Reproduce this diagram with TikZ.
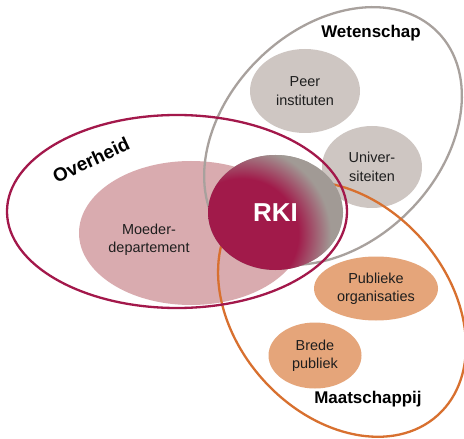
\documentclass[tikz,border=0pt]{standalone}
\usepackage{fontspec}
\setmainfont{Liberation Sans}
\usetikzlibrary{shapes.geometric,calc}
\definecolor{rkired}{RGB}{161,26,74}
\definecolor{rkigray}{RGB}{161,154,149}
\definecolor{crimsonc}{RGB}{163,24,75}
\definecolor{pinkfill}{RGB}{217,171,175}
\definecolor{grayfill}{RGB}{206,198,194}
\definecolor{graylinec}{RGB}{168,161,157}
\definecolor{orangelinec}{RGB}{216,112,47}
\definecolor{orangefill}{RGB}{229,165,122}
\definecolor{txt}{RGB}{30,30,30}
\pgfdeclareradialshading{rkishade}{\pgfpointorigin}{color(0bp)=(rkired); color(14bp)=(rkired); color(22bp)=(rkigray); color(50bp)=(rkigray)}
\begin{document}
\begin{tikzpicture}[x=1bp,y=1bp,
  blob/.style={ellipse, inner sep=0pt, align=center, text=txt, font=\fontsize{14.5}{18.5}\selectfont},
  plain/.style={inner sep=0pt, align=center, text=txt, font=\fontsize{14.5}{18.5}\selectfont},
  ring/.style={ellipse, draw, line width=2.3bp, inner sep=0pt},
  lab/.style={inner sep=0pt, text=black, font=\bfseries\fontsize{17}{20}\selectfont}]
\path[use as bounding box, fill=white] (0,0) rectangle (464,-439);
% inner fills
\node[ellipse, inner sep=0pt, fill=pinkfill, minimum width=224bp, minimum height=144bp] (moeder) at (191,-233) {};
\node[plain] (moedertxt) at (149,-240) {Moeder-\\departement};
\node[blob, fill=grayfill, minimum width=110bp, minimum height=84bp] (peer) at (305,-91) {Peer\\instituten};
\node[blob, fill=grayfill, minimum width=100bp, minimum height=82bp] (univ) at (372,-167) {Univer-\\siteiten};
\node[blob, fill=orangefill, minimum width=124bp, minimum height=64bp] (publ) at (376,-288.5) {Publieke\\organisaties};
\node[blob, fill=orangefill, minimum width=93bp, minimum height=66bp] (brede) at (315,-355.5) {Brede\\publiek};
% big rings
\node[ring, draw=graylinec, rotate=45, minimum width=295bp, minimum height=214bp] (wetenschap) at (333,-136) {};
\node[ring, draw=orangelinec, rotate=-48, minimum width=286bp, minimum height=212bp] (maatschappij) at (342,-309) {};
% RKI
\node[ellipse, inner sep=0pt, fill=rkigray, minimum width=135bp, minimum height=115bp, text=white, font=\bfseries\fontsize{26}{28}\selectfont,
  path picture={\shade[shading=rkishade] ($(path picture bounding box.center)+(-36bp,-22bp)$) circle (100bp);}] (rki) at (275.5,-212.5) {RKI};
\node[ring, draw=crimsonc, minimum width=340bp, minimum height=193bp] (overheid) at (177,-211.5) {};
% labels
\node[lab] (wlab) at (371,-33) {Wetenschap};
\node[lab] (mlab) at (368,-399) {Maatschappij};
\node[lab, rotate=25, font=\bfseries\fontsize{19}{22}\selectfont] (olab) at (91,-160) {Overheid};
\end{tikzpicture}
\end{document}
